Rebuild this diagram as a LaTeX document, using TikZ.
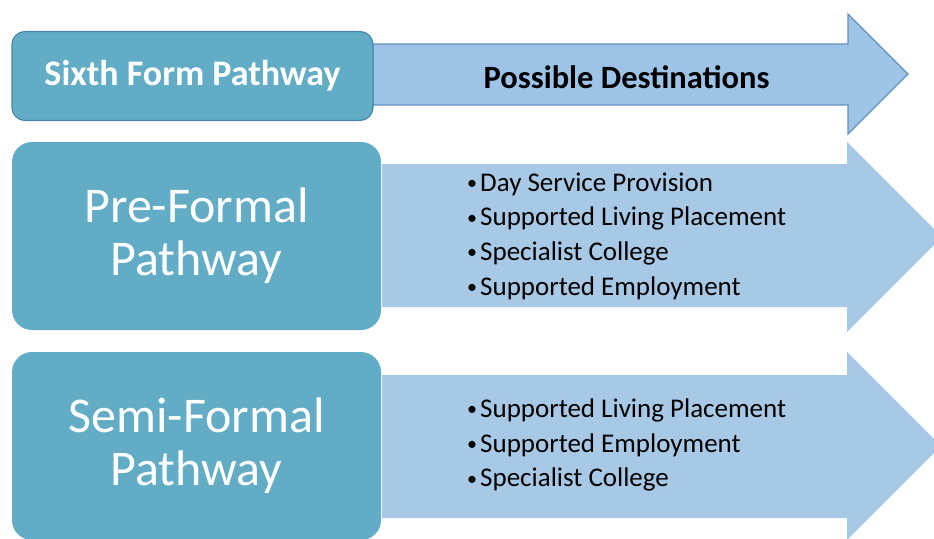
\documentclass[tikz,border=0pt]{standalone}
\usepackage{fontspec}
\setmainfont{Carlito}
\definecolor{boxfill}{RGB}{98,172,198}
\definecolor{boxline}{RGB}{70,135,165}
\definecolor{arrfill}{RGB}{157,195,230}
\definecolor{arrline}{RGB}{100,145,190}
\definecolor{arrlight}{RGB}{168,201,230}
\newcommand{\bul}{\makebox[14pt][l]{\hspace{1pt}\raisebox{1.5pt}{\fontsize{20}{20}\selectfont\textbullet}}}
\tikzset{
  pathbox/.style={draw=none, fill=boxfill, rounded corners=20pt, text=white, align=center, inner sep=0pt},
  listtext/.style={anchor=west, align=left, inner sep=0pt, font=\fontsize{27}{34.7}\selectfont},
}
\begin{document}
\begin{tikzpicture}[x=1pt,y=-1pt]
\useasboundingbox (0,0) rectangle (934,538);
\clip (0,0) rectangle (934,538);
% top arrow
\draw[fill=arrfill, draw=arrline, line width=1.2pt, line join=miter]
  (365,44) -- (848,44) -- (848,14) -- (908,74) -- (848,134) -- (848,105) -- (365,105) -- cycle;
% second arrow
\fill[arrlight] (382,164) -- (847,164) -- (847,142) -- (942,237) -- (847,332) -- (847,307) -- (382,307) -- cycle;
% third arrow
\fill[arrlight] (382,375) -- (847,375) -- (847,352) -- (941,446) -- (847,540) -- (847,518) -- (382,518) -- cycle;
% boxes
\node[pathbox, draw=boxline, line width=1.2pt, rounded corners=13pt, minimum width=361pt, minimum height=89pt,
  font=\bfseries\fontsize{36}{40}\selectfont] (sixth) at (192.5,76) {Sixth Form Pathway};
\node[pathbox, minimum width=369pt, minimum height=188pt, font=\fontsize{50}{53}\selectfont] (pre) at (196.5,236) {Pre-Formal\\Pathway};
\node[pathbox, minimum width=369pt, minimum height=188pt, font=\fontsize{50}{53}\selectfont] (semi) at (196.5,446) {Semi-Formal\\Pathway};
% texts
\node[inner sep=0pt, font=\bfseries\fontsize{32.5}{36}\selectfont] (dest) at (626.5,77) {Possible Destinations};
\node[listtext] (prelist) at (466,236) {\bul Day Service Provision\\\bul Supported Living Placement\\\bul Specialist College\\\bul Supported Employment};
\node[listtext] (semilist) at (466,445) {\bul Supported Living Placement\\\bul Supported Employment\\\bul Specialist College};
\end{tikzpicture}
\end{document}
